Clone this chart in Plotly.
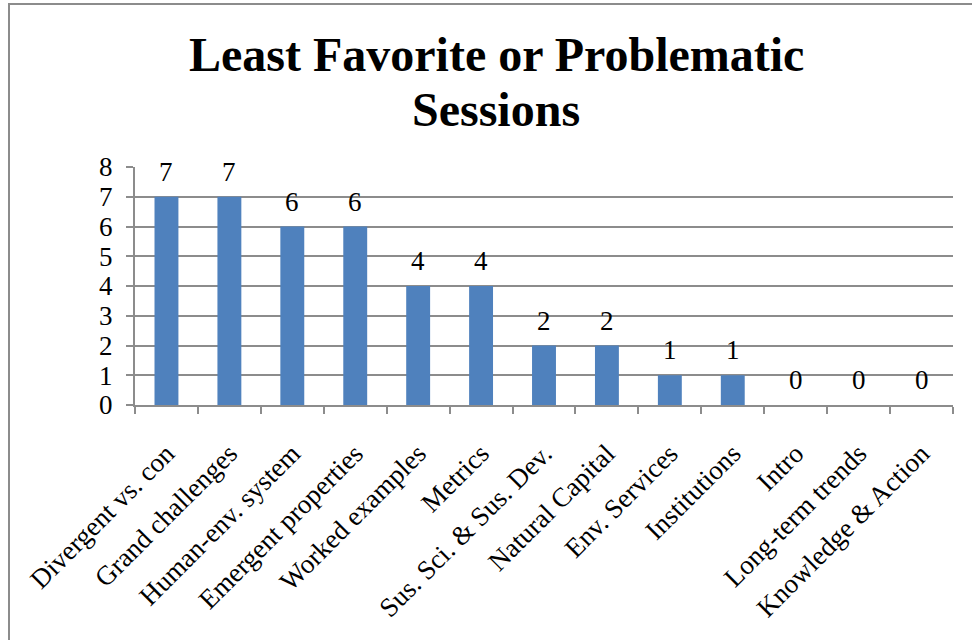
import plotly.graph_objects as go

categories = ["Divergent vs. con", "Grand challenges", "Human-env. system",
              "Emergent properties", "Worked examples", "Metrics",
              "Sus. Sci. & Sus. Dev.", "Natural Capital", "Env. Services",
              "Institutions", "Intro", "Long-term trends", "Knowledge & Action"]
values = [7, 7, 6, 6, 4, 4, 2, 2, 1, 1, 0, 0, 0]
y_ticks = [0, 1, 2, 3, 4, 5, 6, 7, 8]
title_lines = ["Least Favorite or Problematic", "Sessions"]

FONT = "Liberation Serif, Times New Roman, serif"
GRID = "#8c8c8c"

fig = go.Figure(go.Bar(
    x=categories, y=values,
    marker=dict(color="#4F81BD", line=dict(width=0)),
    hoverinfo="x+y",
))

annotations = []
for c, v in zip(categories, values):
    annotations.append(dict(x=c, y=v, xref="x", yref="y", text=str(v),
                            showarrow=False, yanchor="middle", yshift=25,
                            font=dict(family=FONT, size=27, color="black")))
for i, (line, ypx) in enumerate(zip(title_lines, [55, 109])):
    annotations.append(dict(x=(496 - 135) / 818, y=(405 - ypx) / 238,
                            xref="paper", yref="paper", text="<b>%s</b>" % line,
                            showarrow=False, xanchor="center", yanchor="middle",
                            font=dict(family=FONT, size=48, color="black")))

fig.update_layout(
    width=972, height=640,
    margin=dict(l=135, r=19, t=167, b=235),
    paper_bgcolor="white", plot_bgcolor="white",
    bargap=0.62,
    showlegend=False,
    font=dict(family=FONT, size=25, color="black"),
    annotations=annotations,
    shapes=[dict(type="rect", xref="paper", yref="paper",
                 x0=(9 - 135) / 818, x1=1.03, y0=-1.05, y1=(405 - 4) / 238,
                 line=dict(color="#8c8c8c", width=2), layer="below")],
)
fig.update_xaxes(
    tickangle=-45, tickson="boundaries", ticks="outside", ticklen=7,
    tickcolor=GRID, tickwidth=2, showline=True, linecolor=GRID, linewidth=2,
    showgrid=False, ticklabelstandoff=20,
    tickfont=dict(family=FONT, size=27, color="black"),
)
fig.update_yaxes(
    range=[0, 8], tickvals=y_ticks, ticks="outside", ticklen=7,
    tickcolor=GRID, tickwidth=2, showline=True, linecolor=GRID, linewidth=2,
    showgrid=True, gridcolor=GRID, gridwidth=2, zeroline=False,
    ticklabelstandoff=8,
    tickfont=dict(family=FONT, size=27, color="black"),
)

fig.write_html("out.html")
